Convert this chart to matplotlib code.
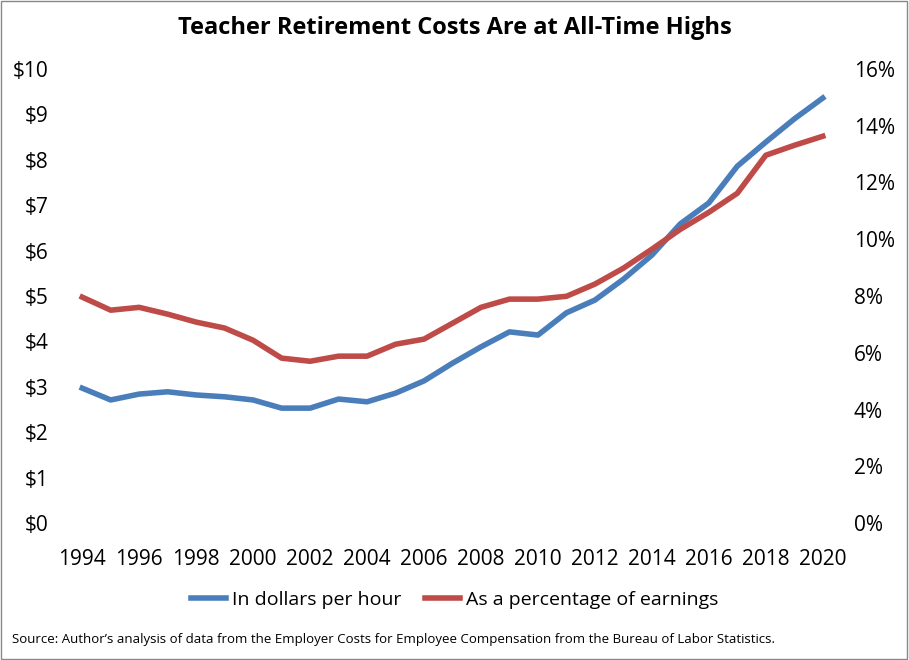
import matplotlib
matplotlib.use("Agg")
import matplotlib.pyplot as plt
from matplotlib.patches import Rectangle

years = list(range(1994, 2021))
dollars = [2.97,2.71,2.84,2.89,2.82,2.78,2.71,2.53,2.53,2.73,2.67,2.86,3.13,3.52,3.88,4.21,4.14,4.63,4.91,5.37,5.90,6.59,7.05,7.86,8.39,8.90,9.36]
percent = [7.96,7.5,7.6,7.36,7.08,6.87,6.44,5.81,5.70,5.88,5.88,6.30,6.48,7.04,7.6,7.89,7.89,7.99,8.42,8.98,9.65,10.35,10.95,11.62,12.96,13.31,13.63]
xticks = list(range(1994, 2021, 2))

plt.rcParams['font.family'] = ['Open Sans', 'DejaVu Sans']
fig = plt.figure(figsize=(9.09, 6.6), dpi=100)
fig.patches.append(Rectangle((0.001, 0.001), 0.997, 0.997, transform=fig.transFigure,
                             fill=False, edgecolor='#888888', lw=1))
ax = fig.add_axes([68/909, 1-523/660, 769/909, 454/660])
ax2 = ax.twinx()
l1, = ax.plot(years, dollars, color='#4a7ebb', lw=4, label='In dollars per hour')
l2, = ax2.plot(years, percent, color='#be4b48', lw=4, label='As a percentage of earnings')
ax.set_ylim(0, 10); ax2.set_ylim(0, 16)
ax.set_xlim(1993.5, 2020.5)
ax.set_yticks(range(0, 11)); ax.set_yticklabels([f'${v}' for v in range(11)])
ax2.set_yticks(range(0, 17, 2)); ax2.set_yticklabels([f'{v}%' for v in range(0, 17, 2)])
ax.set_xticks(xticks)
for a in (ax, ax2):
    for s in a.spines.values():
        s.set_visible(False)
    a.tick_params(length=0, labelsize=15, pad=8)
ax.tick_params(axis='y', pad=14)
ax2.tick_params(axis='y', pad=12)
ax.tick_params(axis='x', pad=19)
fig.text(0.5, 1-28/660, 'Teacher Retirement Costs Are at All-Time Highs', ha='center', va='center',
         fontsize=17, fontweight='bold')
fig.legend(handles=[l1, l2], loc='center', bbox_to_anchor=(0.5, 1-600/660), ncol=2, frameon=False,
           fontsize=14, handlelength=1.8, columnspacing=1.2, handletextpad=0.3)
fig.text(12/909, 1-640/660, 'Source: Author\u2019s analysis of data from the Employer Costs for Employee Compensation from the Bureau of Labor Statistics.',
         ha='left', va='center', fontsize=9.5)
fig.savefig('out.png', dpi=100)
